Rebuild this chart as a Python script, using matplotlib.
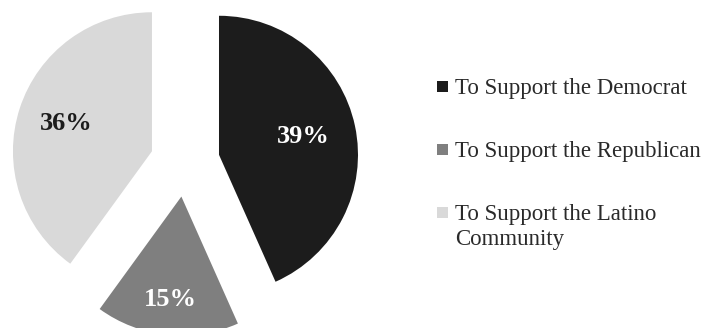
import matplotlib.pyplot as plt
import numpy as np
from matplotlib.patches import Rectangle

# support shares (percent as printed)
categories = ["To Support the Democrat", "To Support the Republican",
              "To Support the Latino\nCommunity"]
shares = [39, 15, 36]
colors = ["#1c1c1c", "#7f7f7f", "#d9d9d9"]
label_colors = ["white", "white", "#1c1c1c"]
label_dist = [0.62, 0.745, 0.65]

total = sum(shares)
H = 328

fig = plt.figure(figsize=(7.09, 3.28), dpi=100)
ax = fig.add_axes([0, 0, 1, 1])

wedges, texts, autotexts = ax.pie(
    shares,
    colors=colors,
    startangle=90,
    counterclock=False,
    center=(185, H - 162),
    radius=139,
    explode=[0.25 * 139] * 3,
    autopct=lambda p: f"{p * total / 100:.0f}%",
    pctdistance=0.65,
    frame=True,
    textprops=dict(family="Liberation Serif", fontsize=19, fontweight="bold"),
)

# move each percentage label along its wedge bisector
for w, t, d, c in zip(wedges, autotexts, label_dist, label_colors):
    ang = np.deg2rad((w.theta1 + w.theta2) / 2)
    cx, cy = w.center
    t.set_position((cx + d * w.r * np.cos(ang), cy + d * w.r * np.sin(ang)))
    t.set_color(c)

ax.set_xlim(0, 709)
ax.set_ylim(0, H)
ax.set_aspect("equal")
ax.axis("off")

# legend drawn by hand so the swatch sits on the first text line
row_y = 89
for w, cat in zip(wedges, categories):
    ax.add_patch(Rectangle((437, H - row_y - 3), 11, 11,
                           facecolor=w.get_facecolor(), edgecolor="none"))
    ax.text(455, H - row_y + 11, cat, ha="left", va="top",
            family="Liberation Serif", fontsize=16.5, color="#2a2a2a",
            linespacing=1.22)
    row_y += 63

fig.savefig("out.png", dpi=100)
